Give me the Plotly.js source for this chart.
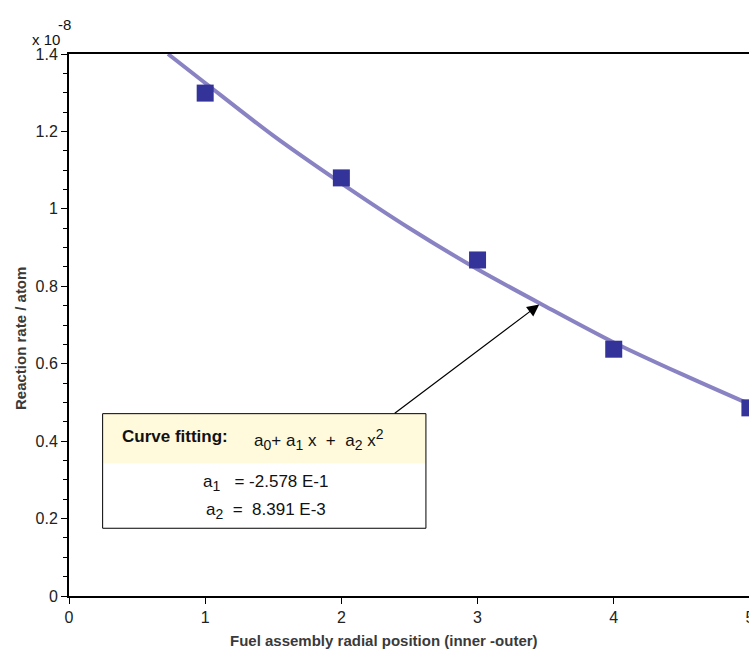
<!DOCTYPE html>
<html>
<head>
<meta charset="utf-8">
<script src="https://cdn.plot.ly/plotly-3.0.1.min.js"></script>
<style>
html, body { margin: 0; padding: 0; overflow: hidden; background: #fff; }
#chart { width: 820px; height: 650px; }
</style>
</head>
<body>
<div id="chart"></div>
<script>
// Measured data (reaction rate / atom, in units of 1e-8)
const positions = [1, 2, 3, 4, 5];
const reactionRate = [1.299, 1.080, 0.868, 0.6375, 0.486];

// Fitted curve
const curveX = [0.727, 1, 1.5, 2, 2.5, 3, 3.5, 4, 4.5, 5];
const curveY = [1.40, 1.325, 1.189, 1.066, 0.950, 0.844, 0.748, 0.655, 0.573, 0.495];

const xTickVals = [0, 1, 2, 3, 4, 5];
const yTickVals = [0, 0.2, 0.4, 0.6, 0.8, 1, 1.2, 1.4];

const xTitle = 'Fuel assembly radial position (inner -outer)';
const yTitle = 'Reaction rate / atom';
const boxHeader = 'Curve fitting:';
function sub(s) { return '<sub><span style="font-size:14px">' + s + '</span></sub>'; }
function sup(s) { return '<sup><span style="font-size:14px">' + s + '</span></sup>'; }
const boxFormula = 'a' + sub('0') + '+ a' + sub('1') + ' x&nbsp;&nbsp;+&nbsp;&nbsp;a' + sub('2') + ' x' + sup('2');
const boxLine1 = 'a' + sub('1') + '&nbsp;&nbsp;&nbsp;= -2.578 E-1';
const boxLine2 = 'a' + sub('2') + '&nbsp;&nbsp;=&nbsp;&nbsp;8.391 E-3';

const FONT = 'Liberation Sans, Arial, Helvetica, sans-serif';

const traces = [
  {
    x: curveX, y: curveY, type: 'scatter', mode: 'lines',
    line: { color: '#8a83c3', width: 4, shape: 'spline', smoothing: 0.8 },
    hoverinfo: 'skip', showlegend: false
  },
  {
    x: positions, y: reactionRate, type: 'scatter', mode: 'markers',
    marker: { symbol: 'square', size: 17, color: '#333399' },
    showlegend: false, cliponaxis: false
  }
];

// plot area: x pixels 69..818 (749 px), y pixels 54..596 (542 px)
const layout = {
  width: 820, height: 650,
  margin: { l: 69, r: 2, t: 54, b: 54 },
  paper_bgcolor: '#fff', plot_bgcolor: '#fff',
  font: { family: FONT, size: 16, color: '#222' },
  showlegend: false,
  xaxis: {
    range: [0, 5.5], tickvals: xTickVals, ticks: 'outside', ticklen: 6, tickwidth: 1,
    tickcolor: '#000', showline: true, linecolor: '#000', linewidth: 2, mirror: true,
    showgrid: false, zeroline: false,
    tickfont: { family: FONT, size: 16, color: '#222' }
  },
  yaxis: {
    range: [0, 1.4], tickvals: yTickVals, ticks: 'outside', ticklen: 6, tickwidth: 1,
    tickcolor: '#000', showline: true, linecolor: '#000', linewidth: 2, mirror: true,
    showgrid: false, zeroline: false,
    minor: { dtick: 0.05, ticks: 'outside', ticklen: 4, tickwidth: 1, tickcolor: '#000' },
    tickfont: { family: FONT, size: 16, color: '#222' }
  },
  shapes: [
    { type: 'rect', xref: 'x', yref: 'y', x0: 0.247, x1: 2.621, y0: 0.343, y1: 0.471,
      fillcolor: '#fffadc', line: { width: 0 }, layer: 'above' },
    { type: 'rect', xref: 'x', yref: 'y', x0: 0.247, x1: 2.621, y0: 0.175, y1: 0.471,
      fillcolor: 'rgba(0,0,0,0)', line: { color: '#000', width: 1 }, layer: 'above' }
  ],
  annotations: [
    { x: 3.453, y: 0.753, ax: 2.381, ay: 0.469, xref: 'x', yref: 'y', axref: 'x', ayref: 'y',
      showarrow: true, arrowhead: 2, arrowsize: 2, arrowwidth: 1.2, arrowcolor: '#000', standoff: 0, text: '' },
    { x: 0.775, y: 0.4125, xref: 'x', yref: 'y', showarrow: false, xanchor: 'center', yanchor: 'middle',
      text: '<b>' + boxHeader + '</b>', font: { family: FONT, size: 17, color: '#111' } },
    { x: 1.836, y: 0.405, xref: 'x', yref: 'y', showarrow: false, xanchor: 'center', yanchor: 'middle',
      text: boxFormula, font: { family: FONT, size: 17, color: '#111' } },
    { x: 1.446, y: 0.292, xref: 'x', yref: 'y', showarrow: false, xanchor: 'center', yanchor: 'middle',
      text: boxLine1, font: { family: FONT, size: 17, color: '#111' } },
    { x: 1.446, y: 0.220, xref: 'x', yref: 'y', showarrow: false, xanchor: 'center', yanchor: 'middle',
      text: boxLine2, font: { family: FONT, size: 17, color: '#111' } },
    // exponent label
    { x: (46 - 69) / 749, y: (596 - 40) / 542, xref: 'paper', yref: 'paper', showarrow: false,
      xanchor: 'center', yanchor: 'middle',
      text: 'x 10', font: { family: FONT, size: 15, color: '#111' } },
    { x: (64 - 69) / 749, y: (596 - 24) / 542, xref: 'paper', yref: 'paper', showarrow: false,
      xanchor: 'center', yanchor: 'middle',
      text: '-8', font: { family: FONT, size: 15, color: '#111' } },
    // axis titles
    { x: (384 - 69) / 749, y: (596 - 640) / 542, xref: 'paper', yref: 'paper', showarrow: false,
      xanchor: 'center', yanchor: 'middle',
      text: '<b>' + xTitle + '</b>', font: { family: FONT, size: 15, color: '#3a3a3a' } },
    { x: (20 - 69) / 749, y: (596 - 339) / 542, xref: 'paper', yref: 'paper', showarrow: false,
      xanchor: 'center', yanchor: 'middle', textangle: -90,
      text: '<b>' + yTitle + '</b>', font: { family: FONT, size: 15, color: '#3a3a3a' } }
  ]
};

Plotly.newPlot('chart', traces, layout, { displayModeBar: false, staticPlot: true });
</script>
</body>
</html>
